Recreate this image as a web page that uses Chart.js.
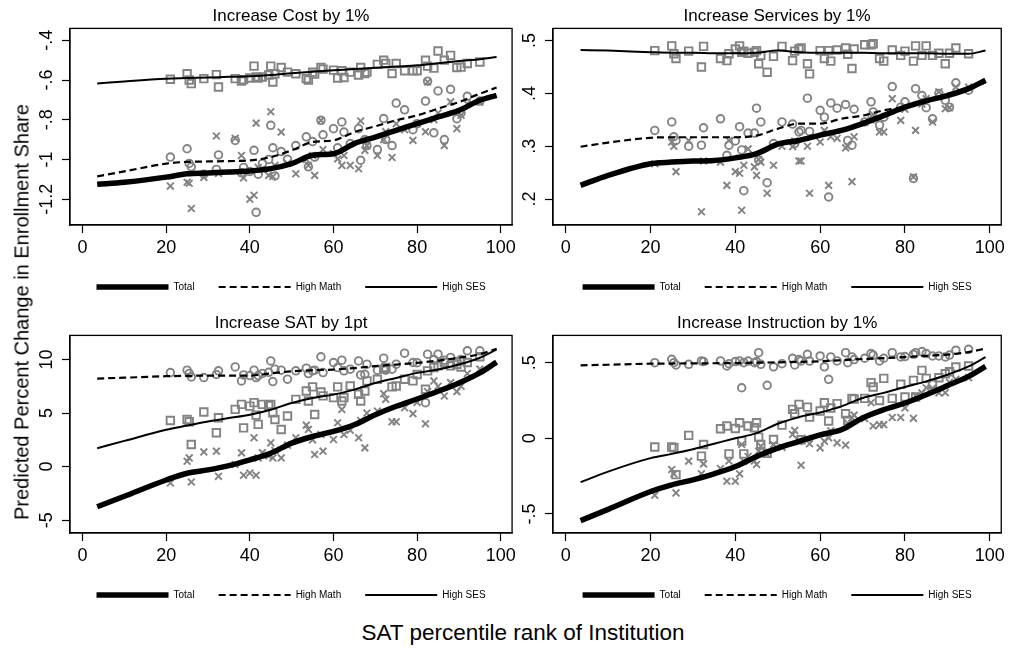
<!DOCTYPE html>
<html>
<head>
<meta charset="utf-8">
<script src="https://cdn.jsdelivr.net/npm/chart.js@4/dist/chart.umd.min.js"></script>
<style>
    html, body { margin: 0; padding: 0; background: #fff; }
    body { width: 1009px; height: 648px; position: relative; overflow: hidden;
           font-family: "Liberation Sans", Arial, sans-serif; color: #000; }
    .panel { position: absolute; background: #fff; }
    .panel canvas { display: block; }
    #ytitle { position: absolute; left: 22px; top: 312px; white-space: nowrap; font-size: 20px;
              transform: translate(-50%, -50%) rotate(-90deg); }
    #xtitle { position: absolute; left: 523px; top: 633px; white-space: nowrap; font-size: 22.5px;
              transform: translate(-50%, -50%); }
</style>
</head>
<body>
<div class="panel" style="left:30px;top:0;width:490px;height:305px"><canvas id="cost" width="490" height="305"></canvas></div>
<div class="panel" style="left:519px;top:0;width:490px;height:305px"><canvas id="services" width="490" height="305"></canvas></div>
<div class="panel" style="left:30px;top:307px;width:490px;height:306px"><canvas id="sat" width="490" height="306"></canvas></div>
<div class="panel" style="left:519px;top:307px;width:490px;height:306px"><canvas id="instruction" width="490" height="306"></canvas></div>
<div id="ytitle">Predicted Percent Change in Enrollment Share</div>
<div id="xtitle">SAT percentile rank of Institution</div>

<script>
// SAT percentile rank of each institution (shared by all four panels)
var schoolRank = [21, 25, 25.5, 26, 29, 32, 32.5, 36.5, 38, 38.5, 40, 41, 41.5, 42, 43, 44.5, 45, 45.5, 46, 47.5,
    49, 51, 53.5, 54, 55, 55.5, 57, 57.5, 60, 61, 62, 62.5, 64, 66, 66.5, 67.5, 68, 70.5, 72, 72.5,
    74, 75, 77, 79, 80, 82, 82.5, 84, 85, 86.5, 88, 89.5, 90.5, 92, 95];

// x positions of the smoothed curves
var curveRank = [3.5, 10, 20, 25, 30, 35, 40, 45, 50, 55, 60, 65, 70, 75, 80, 85, 90, 95, 99];

var xTicks = [0, 20, 40, 60, 80, 100];

// ---- Increase Cost by 1% ----
var costTicks = [-1.2, -1, -0.8, -0.6, -0.4];
var costTotalCurve = [-1.125, -1.115, -1.089, -1.072, -1.068, -1.063, -1.058, -1.046, -1.021, -0.979,
    -0.971, -0.92, -0.887, -0.853, -0.82, -0.786, -0.753, -0.702, -0.677];
var costMathCurve = [-1.085, -1.06, -1.021, -1.012, -1.01, -1.008, -1.005, -0.988, -0.954, -0.912,
    -0.904, -0.862, -0.833, -0.803, -0.778, -0.744, -0.711, -0.669, -0.638];
var costSesCurve = [-0.618, -0.607, -0.593, -0.59, -0.587, -0.584, -0.581, -0.575, -0.566, -0.558,
    -0.551, -0.545, -0.538, -0.532, -0.526, -0.515, -0.504, -0.495, -0.484];
var costTotalPts = [-1.134, -1.115, -1.120, -1.247, -1.090, -0.882, -1.070, -0.893, -0.980, -1.093,
    -1.200, -1.180, -0.817, -1.040, -1.050, -1.080, -0.760, -1.086, -1.030, -0.862,
    -1.020, -1.072, -1.000, -1.030, -0.980, -1.080, -0.803, -0.950, -0.970, -0.997,
    -1.030, -0.980, -1.030, -1.047, -0.806, -0.954, -0.930, -0.980, -0.900, -0.860,
    -0.990, -0.820, -0.850, -0.904, -0.820, -0.860, -0.610, -0.800, -0.766, -0.930,
    -0.710, -0.845, -0.777, -0.720, -0.712];
var costMathPts = [-0.988, -0.946, -1.020, -1.037, -1.074, -1.050, -0.977, -0.904, -1.067, -1.040,
    -1.060, -0.954, -1.266, -1.074, -1.020, -1.000, -0.828, -0.941, -1.083, -0.960,
    -0.999, -0.930, -0.886, -1.037, -0.910, -0.988, -0.803, -0.876, -0.845, -0.941,
    -0.811, -0.862, -0.920, -0.845, -1.004, -0.900, -0.930, -0.950, -0.794, -0.900,
    -0.930, -0.716, -0.750, -0.850, -0.820, -0.706, -0.606, -0.866, -0.655, -0.900,
    -0.647, -0.795, -0.766, -0.682, -0.706];
var costSesPts = [-0.596, -0.568, -0.600, -0.618, -0.593, -0.573, -0.635, -0.593, -0.605, -0.598,
    -0.590, -0.530, -0.585, -0.590, -0.585, -0.575, -0.530, -0.610, -0.568, -0.537,
    -0.560, -0.568, -0.593, -0.600, -0.560, -0.570, -0.537, -0.545, -0.550, -0.590,
    -0.553, -0.587, -0.560, -0.575, -0.537, -0.567, -0.560, -0.521, -0.500, -0.517,
    -0.567, -0.517, -0.553, -0.553, -0.553, -0.500, -0.530, -0.540, -0.454, -0.500,
    -0.476, -0.537, -0.535, -0.517, -0.509];

// ---- Increase Services by 1% ----
var svcTicks = [0.2, 0.3, 0.4, 0.5];
var svcTotalCurve = [0.226, 0.245, 0.267, 0.27, 0.272, 0.273, 0.278, 0.286, 0.304, 0.311,
    0.321, 0.33, 0.343, 0.358, 0.374, 0.386, 0.396, 0.409, 0.425];
var svcMathCurve = [0.299, 0.307, 0.316, 0.317, 0.317, 0.317, 0.317, 0.32, 0.333, 0.343,
    0.343, 0.352, 0.358, 0.368, 0.374, 0.384, 0.396, 0.409, 0.421];
var svcSesCurve = [0.482, 0.481, 0.478, 0.477, 0.477, 0.476, 0.476, 0.477, 0.481, 0.478,
    0.477, 0.477, 0.477, 0.476, 0.476, 0.476, 0.475, 0.475, 0.481];
var svcTotalPts = [0.267, 0.308, 0.300, 0.252, 0.311, 0.176, 0.272, 0.270, 0.226, 0.311,
    0.252, 0.249, 0.179, 0.264, 0.295, 0.261, 0.245, 0.275, 0.270, 0.211,
    0.264, 0.300, 0.299, 0.310, 0.272, 0.272, 0.300, 0.211, 0.308, 0.330,
    0.226, 0.318, 0.315, 0.297, 0.300, 0.233, 0.318, 0.345, 0.350, 0.360,
    0.327, 0.327, 0.390, 0.349, 0.370, 0.242, 0.330, 0.380, 0.390, 0.346,
    0.403, 0.371, 0.373, 0.412, 0.412];
var svcMathPts = [0.330, 0.346, 0.318, 0.311, 0.300, 0.302, 0.335, 0.352, 0.283, 0.302,
    0.310, 0.337, 0.293, 0.216, 0.325, 0.325, 0.372, 0.274, 0.346, 0.231,
    0.305, 0.346, 0.342, 0.305, 0.327, 0.330, 0.391, 0.328, 0.368, 0.355,
    0.204, 0.382, 0.372, 0.379, 0.311, 0.302, 0.370, 0.346, 0.384, 0.365,
    0.340, 0.355, 0.413, 0.374, 0.384, 0.239, 0.409, 0.396, 0.373, 0.352,
    0.400, 0.387, 0.374, 0.420, 0.406];
var svcSesPts = [0.481, 0.490, 0.475, 0.466, 0.480, 0.450, 0.489, 0.466, 0.462, 0.475,
    0.484, 0.490, 0.478, 0.480, 0.476, 0.478, 0.481, 0.456, 0.472, 0.440,
    0.470, 0.489, 0.462, 0.480, 0.484, 0.486, 0.456, 0.437, 0.481, 0.466,
    0.481, 0.461, 0.482, 0.486, 0.474, 0.447, 0.484, 0.492, 0.492, 0.494,
    0.466, 0.461, 0.482, 0.472, 0.480, 0.461, 0.490, 0.472, 0.490, 0.472,
    0.476, 0.456, 0.476, 0.486, 0.475];

// ---- Increase SAT by 1pt ----
var satTicks = [-5, 0, 5, 10];
var satTotalCurve = [-3.75, -2.77, -1.25, -0.62, -0.31, 0.09, 0.63, 1.25, 2.19, 2.81,
    3.28, 3.91, 4.84, 5.63, 6.31, 7.03, 7.81, 8.75, 9.75];
var satMathCurve = [8.22, 8.3, 8.44, 8.47, 8.5, 8.5, 8.5, 8.7, 8.9, 9.0,
    9.06, 9.2, 9.38, 9.53, 9.69, 9.9, 10.16, 10.5, 11.0];
var satSesCurve = [1.72, 2.4, 3.44, 3.83, 4.22, 4.53, 4.84, 5.31, 5.94, 6.41,
    6.72, 7.19, 7.81, 8.28, 8.75, 9.06, 9.53, 10.16, 10.94];
var satTotalPts = [-1.53, 0.50, 0.81, -1.44, 1.37, 1.44, -0.91, 0.20, 1.28, -0.81,
    -0.60, 2.69, -0.81, 0.81, 1.30, 1.00, 2.22, 0.81, 1.50, 0.81,
    2.00, 2.69, 3.87, 3.47, 2.50, 1.13, 3.00, 1.44, 2.53, 4.09,
    5.34, 3.00, 3.40, 2.69, 4.30, 1.75, 5.00, 5.19, 6.81, 6.28,
    4.19, 4.19, 5.50, 4.94, 6.00, 4.00, 7.00, 8.00, 7.50, 6.59,
    7.84, 7.00, 7.50, 8.69, 9.10];
var satMathPts = [8.78, 9.00, 8.70, 8.37, 8.31, 8.60, 8.94, 9.31, 8.00, 8.56,
    8.50, 9.00, 8.31, 8.50, 8.70, 8.80, 9.87, 7.94, 9.10, 9.00,
    8.16, 8.94, 9.19, 8.69, 8.94, 9.00, 10.25, 8.78, 9.72, 9.25,
    9.94, 8.94, 9.10, 9.87, 8.56, 8.62, 9.56, 9.00, 10.12, 9.00,
    9.10, 9.56, 10.59, 9.72, 9.70, 5.97, 10.50, 10.00, 10.50, 9.94,
    10.19, 9.81, 10.00, 10.81, 10.81];
var satSesPts = [4.31, 4.40, 4.19, 2.06, 5.10, 3.16, 4.56, 5.34, 5.81, 3.62,
    5.65, 5.97, 4.81, 3.94, 5.81, 5.70, 5.81, 5.03, 4.40, 3.47,
    4.72, 6.28, 7.06, 6.12, 7.44, 4.87, 6.97, 6.60, 6.44, 7.44,
    6.12, 6.44, 7.53, 6.75, 6.12, 7.06, 8.00, 8.16, 9.10, 9.25,
    7.44, 7.53, 8.16, 8.00, 8.60, 7.22, 8.94, 9.25, 9.40, 9.72,
    9.40, 9.56, 9.30, 9.72, 10.25];

// ---- Increase Instruction by 1% ----
var insTicks = [-0.5, 0, 0.5];
var insTotalCurve = [-0.544, -0.47, -0.352, -0.308, -0.275, -0.235, -0.187, -0.12, -0.065, -0.021,
    0.023, 0.056, 0.134, 0.189, 0.233, 0.288, 0.348, 0.409, 0.475];
var insMathCurve = [0.482, 0.486, 0.493, 0.494, 0.495, 0.496, 0.497, 0.5, 0.502, 0.505,
    0.509, 0.516, 0.524, 0.53, 0.537, 0.545, 0.553, 0.57, 0.593];
var insSesCurve = [-0.29, -0.22, -0.131, -0.103, -0.072, -0.036, 0.0, 0.034, 0.096, 0.14,
    0.171, 0.211, 0.266, 0.3, 0.339, 0.376, 0.42, 0.475, 0.537];
var insTotalPts = [-0.376, -0.206, -0.235, -0.361, -0.151, -0.235, -0.169, -0.200, -0.284, -0.150,
    -0.284, -0.235, -0.041, -0.151, -0.120, -0.150, -0.173, -0.085, -0.052, -0.107,
    -0.041, -0.060, 0.025, 0.052, -0.020, -0.178, 0.000, -0.036, -0.063, -0.019,
    0.003, 0.050, -0.030, -0.045, 0.100, 0.136, 0.153, 0.130, 0.235, 0.081,
    0.090, 0.090, 0.137, 0.137, 0.200, 0.132, 0.280, 0.300, 0.334, 0.330,
    0.300, 0.301, 0.370, 0.390, 0.401];
var insMathPts = [0.500, 0.522, 0.500, 0.485, 0.489, 0.511, 0.507, 0.511, 0.478, 0.493,
    0.507, 0.511, 0.334, 0.500, 0.510, 0.500, 0.507, 0.566, 0.489, 0.350,
    0.472, 0.493, 0.529, 0.485, 0.520, 0.511, 0.555, 0.510, 0.544, 0.472,
    0.390, 0.538, 0.511, 0.566, 0.500, 0.538, 0.520, 0.529, 0.560, 0.550,
    0.511, 0.529, 0.566, 0.538, 0.540, 0.555, 0.566, 0.573, 0.560, 0.544,
    0.544, 0.538, 0.550, 0.582, 0.588];
var insSesPts = [-0.058, -0.058, -0.063, -0.240, 0.019, -0.118, -0.041, 0.063, 0.081, -0.103,
    0.065, 0.103, -0.019, -0.103, 0.081, 0.070, 0.103, 0.008, -0.041, -0.100,
    -0.008, 0.087, 0.191, 0.162, 0.224, -0.010, 0.206, 0.140, 0.180, 0.235,
    0.114, 0.200, 0.229, 0.162, 0.118, 0.264, 0.260, 0.264, 0.368, 0.339,
    0.250, 0.396, 0.264, 0.357, 0.273, 0.383, 0.273, 0.449, 0.396, 0.357,
    0.400, 0.427, 0.440, 0.471, 0.478];

(function () {
    var FONT = '"Liberation Sans", Arial, sans-serif';
    var GREY = "#838383";
    Chart.defaults.font.family = FONT;
    Chart.defaults.color = "#000";

    function pairs(xs, ys) {
        return ys.map(function (y, i) { return { x: xs[i], y: y }; });
    }

    // Stata style tick labels: -.4, .5, -1.2
    function stataLabel(v) {
        var r = Math.round(v * 100) / 100;
        if (r === 0) return "0";
        return String(r).replace(/^(-?)0\./, "$1.");
    }

    // rotated y labels are centred on the tick; padding puts their centre 23px left of the axis
    var measure = document.createElement("canvas").getContext("2d");
    measure.font = "18px " + FONT;
    function yPad(ticks) {
        var w = Math.max.apply(null, ticks.map(function (v) { return measure.measureText(stataLabel(v)).width; }));
        return 15 - w / 2;
    }

    var frame = {
        id: "frame",
        afterDraw: function (chart) {
            var a = chart.chartArea, ctx = chart.ctx;
            ctx.save();
            ctx.strokeStyle = "#000";
            ctx.lineWidth = 1.3;
            ctx.strokeRect(a.left, a.top, a.right - a.left, a.bottom - a.top);
            ctx.restore();
        }
    };

    // legend keys: take width and dash from the line itself, not from its (hidden) points
    function legendItems(chart) {
        var items = Chart.defaults.plugins.legend.labels.generateLabels(chart);
        items.forEach(function (it) {
            var ds = chart.data.datasets[it.datasetIndex];
            it.lineWidth = ds.borderWidth;
            it.lineDash = ds.borderDash || [];
            it.strokeStyle = ds.borderColor;
        });
        return items;
    }

    function makePanel(id, title, yMin, yMax, yTicks, axisWidth, padRight, curves, points) {
        var lineStyles = [
            { label: "Total", borderWidth: 5.5, borderDash: [] },
            { label: "High Math", borderWidth: 2.2, borderDash: [7, 4] },
            { label: "High SES", borderWidth: 2, borderDash: [] },
        ];
        var markerStyles = [
            { label: "Total (institutions)", pointStyle: "crossRot", pointRadius: 4.8 },
            { label: "High Math (institutions)", pointStyle: "circle", pointRadius: 3.8 },
            { label: "High SES (institutions)", pointStyle: "rect", pointRadius: 5.3 },
        ];
        var datasets = [];
        lineStyles.forEach(function (s, i) {
            datasets.push({
                label: s.label,
                data: pairs(curveRank, curves[i]),
                showLine: true,
                borderColor: "#000",
                backgroundColor: "#000",
                borderWidth: s.borderWidth,
                borderDash: s.borderDash,
                pointRadius: 0,
                cubicInterpolationMode: "monotone",
            });
        });
        markerStyles.forEach(function (s, i) {
            datasets.push({
                label: s.label,
                data: pairs(schoolRank, points[i]),
                pointStyle: s.pointStyle,
                pointRadius: s.pointRadius,
                borderColor: GREY,
                backgroundColor: "rgba(0,0,0,0)",
                pointBorderWidth: 1.9,
            });
        });

        new Chart(document.getElementById(id), {
            type: "scatter",
            data: { datasets: datasets },
            plugins: [frame],
            options: {
                responsive: false,
                animation: false,
                events: [],
                layout: { padding: { left: 0, right: padRight, top: 0, bottom: 3 } },
                scales: {
                    x: {
                        type: "linear",
                        min: -3,
                        max: 102.7,
                        afterBuildTicks: function (s) { s.ticks = xTicks.map(function (v) { return { value: v }; }); },
                        afterFit: function (s) { s.height = 33; },
                        ticks: { font: { size: 18 }, color: "#000", padding: 4, maxRotation: 0,
                                 callback: function (v) { return String(v); } },
                        grid: { drawOnChartArea: false, drawTicks: true, tickLength: 8, color: "#000", tickWidth: 1.2 },
                        border: { display: true, color: "#000", width: 1.2 },
                    },
                    y: {
                        min: yMin,
                        max: yMax,
                        afterBuildTicks: function (s) { s.ticks = yTicks.map(function (v) { return { value: v }; }); },
                        afterFit: function (s) { s.width = axisWidth; },
                        ticks: { font: { size: 18 }, color: "#000", minRotation: 90, maxRotation: 90,
                                 crossAlign: "center", padding: yPad(yTicks),
                                 callback: function (v) { return stataLabel(v); } },
                        grid: { drawOnChartArea: false, drawTicks: true, tickLength: 8, color: "#000", tickWidth: 1.2 },
                        border: { display: true, color: "#000", width: 1.2 },
                    },
                },
                plugins: {
                    title: {
                        display: true,
                        fullSize: false,
                        text: title,
                        color: "#000",
                        font: { size: 17, weight: "normal" },
                        padding: { top: 6, bottom: 2 },
                    },
                    legend: {
                        display: true,
                        position: "bottom",
                        fullSize: false,
                        labels: {
                            usePointStyle: true,
                            pointStyle: "line",
                            pointStyleWidth: 72,
                            padding: 24,
                            color: "#000",
                            font: { size: 10 },
                            generateLabels: legendItems,
                            filter: function (item) { return item.datasetIndex < 3; },
                        },
                    },
                    tooltip: { enabled: false },
                },
            },
        });
    }

    makePanel("cost", "Increase Cost by 1%", -1.33, -0.34, costTicks, 40, 2,
        [costTotalCurve, costMathCurve, costSesCurve], [costTotalPts, costMathPts, costSesPts]);
    makePanel("services", "Increase Services by 1%", 0.151, 0.523, svcTicks, 34, 7,
        [svcTotalCurve, svcMathCurve, svcSesCurve], [svcTotalPts, svcMathPts, svcSesPts]);
    makePanel("sat", "Increase SAT by 1pt", -6.2, 12.25, satTicks, 40, 2,
        [satTotalCurve, satMathCurve, satSesCurve], [satTotalPts, satMathPts, satSesPts]);
    makePanel("instruction", "Increase Instruction by 1%", -0.626, 0.68, insTicks, 34, 7,
        [insTotalCurve, insMathCurve, insSesCurve], [insTotalPts, insMathPts, insSesPts]);
})();
</script>
</body>
</html>
